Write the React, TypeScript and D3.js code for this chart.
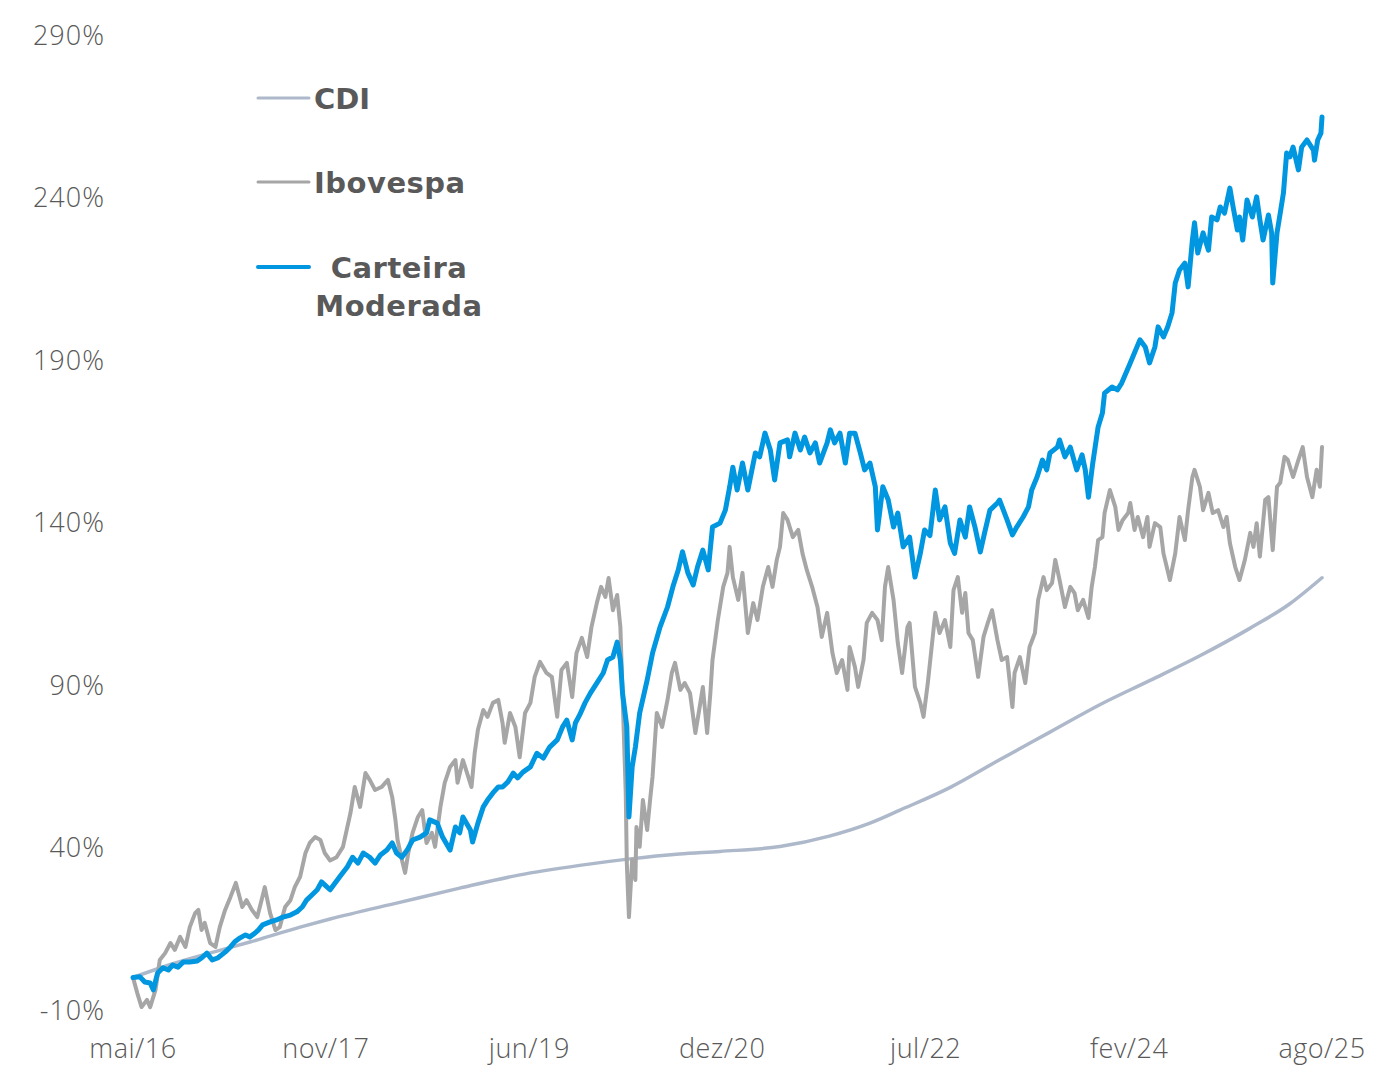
import * as d3 from 'd3'

// months since mai/16, cumulative return in %
const cdi: [number, number][] = [
  [0, 0], [3.5, 4], [7.5, 7.8], [11, 11], [15.6, 15.5], [18.4, 18], [25, 23.2], [30.5, 27.5],
  [36, 31.5], [41.7, 34.5], [46.4, 36.5], [51, 38], [54.8, 38.8], [60.4, 40.3], [65, 43.5],
  [68.8, 47.5], [71.6, 51.5], [76.3, 58.5], [80.9, 67], [85.6, 75.5], [90.3, 84], [95, 91.5],
  [99.6, 99], [104.3, 107.5], [108, 115], [111, 123],
]

const ibovespa: [number, number][] = [
  [0, 0], [0.4, -4.8], [0.8, -9.1], [1.3, -6.9], [1.6, -9.1], [2.1, -3.8], [2.5, 5.4], [3.0, 7.5],
  [3.5, 10.6], [3.9, 8.5], [4.4, 12.5], [4.9, 9.4], [5.3, 15.5], [5.8, 19.8], [6.1, 20.8],
  [6.4, 14.6], [6.7, 16.8], [7.2, 10.6], [7.7, 9.4], [8.1, 15.5], [8.6, 20.8], [9.1, 24.8],
  [9.6, 29.1], [10.2, 21.7], [10.6, 23.8], [11.1, 20.8], [11.6, 18.6], [12.0, 23.8], [12.3, 27.8],
  [12.8, 19.8], [13.3, 14.6], [13.7, 15.5], [14.2, 21.7], [14.7, 23.8], [15.1, 27.8], [15.6, 31],
  [16.1, 38.3], [16.5, 41.4], [17.0, 43.2], [17.5, 42.3], [17.9, 38.3], [18.4, 36],
  [19.0, 37], [19.6, 40.2], [20.3, 50.6], [20.7, 58.6], [21.2, 52.5], [21.7, 62.9], [22.1, 60.8],
  [22.6, 57.7], [23.2, 58.6], [23.8, 60.8], [24.2, 55.5], [24.5, 48.5], [24.7, 42.3], [25.1, 36.2],
  [25.4, 32.2], [25.7, 38.3], [26.1, 44.5], [26.6, 49.4], [27.0, 51.5], [27.4, 41.4], [27.9, 44.5],
  [28.2, 40.2], [28.7, 52.5], [29.1, 59.9], [29.6, 64.8], [30.1, 66.9], [30.3, 59.9], [30.8, 66.9],
  [31.3, 61.7], [31.6, 58.6], [31.9, 69.1], [32.2, 76.2], [32.7, 82.3], [33.1, 80.2], [33.6, 84.5],
  [34.1, 85.4], [34.5, 78.3], [34.7, 72.2], [35.2, 81.4], [35.7, 77.1], [36.1, 67.8], [36.6, 81.4],
  [37.1, 84.5], [37.5, 92.5], [38.0, 97.1], [38.6, 93.7], [39.1, 92.5], [39.6, 80.2], [40.0, 94.6],
  [40.5, 96.8], [41.0, 86.3], [41.4, 99.8], [41.9, 104.5], [42.4, 98.6], [42.8, 107.8], [43.3, 115.2],
  [43.7, 120.2], [44.1, 117.1], [44.4, 122.9], [44.8, 113], [45.2, 117.7], [45.5, 107.8], [45.7, 87.5],
  [46.0, 56.8], [46.1, 35.2], [46.3, 18.6], [46.6, 36.2], [46.9, 30], [47.0, 46.3], [47.3, 40.2],
  [47.6, 54.6], [48.0, 45.4], [48.3, 55.5], [48.5, 61.7], [48.9, 81.4], [49.4, 77.1], [49.9, 85.4],
  [50.3, 93.7], [50.6, 96.8], [51.1, 88.5], [51.5, 90.6], [52.0, 87.5], [52.5, 75.2], [52.9, 83.2],
  [53.2, 89.4], [53.6, 75.2], [53.9, 87.5], [54.1, 97.7], [54.6, 110], [55.1, 120.2], [55.5, 124.5],
  [55.7, 132.5], [56.0, 123.2], [56.5, 116.2], [56.9, 124.5], [57.4, 106], [57.9, 115.2], [58.3, 110],
  [58.8, 120.2], [59.3, 126.3], [59.7, 120.2], [60.1, 128.5], [60.4, 132.5], [60.7, 142.9], [61.1, 140.8],
  [61.6, 135.5], [62.1, 137.7], [62.5, 130.5], [62.9, 125.4], [63.4, 120.2], [63.9, 114], [64.3, 104.8],
  [64.8, 112.2], [65.3, 99.8], [65.7, 93.7], [66.2, 97.7], [66.7, 88.5], [66.9, 101.7], [67.4, 95.5],
  [67.7, 89.4], [68.2, 97.7], [68.5, 109.1], [69.0, 112.2], [69.5, 110], [69.9, 103.8], [70.2, 120.2],
  [70.5, 126.3], [71.0, 116.2], [71.4, 102.9], [71.8, 93.7], [72.3, 107.8], [72.5, 109.1], [73.0, 89.4],
  [73.5, 84.5], [73.8, 80.2], [74.2, 90.6], [74.9, 112.2], [75.3, 106], [75.8, 110], [76.3, 101.7],
  [76.6, 119.2], [77.0, 123.2], [77.4, 112.2], [77.7, 118.3], [78.0, 106], [78.4, 103.8], [78.9, 92.5],
  [79.4, 104.8], [79.8, 109.1], [80.2, 113], [80.7, 103.8], [81.1, 97.7], [81.6, 98.6], [82.1, 83.2],
  [82.3, 93.7], [82.8, 98.6], [83.3, 90.6], [83.7, 101.7], [84.2, 106], [84.5, 116.2], [85.0, 123.2],
  [85.3, 119.2], [85.8, 121.4], [86.1, 128.5], [86.5, 122.3], [87.0, 114], [87.5, 120.2], [87.9, 118.3],
  [88.2, 113], [88.7, 116.2], [89.2, 110.6], [89.5, 120.2], [89.8, 126.3], [90.1, 134.6], [90.5, 135.5],
  [90.7, 142.9], [91.2, 150], [91.7, 144.8], [92.0, 137.7], [92.4, 140.8], [92.9, 142.9], [93.1, 146],
  [93.5, 137.7], [93.8, 141.7], [94.3, 135.5], [94.7, 141.7], [94.9, 132.5], [95.4, 139.8], [95.9, 138.6],
  [96.2, 130.5], [96.8, 122.3], [97.3, 130.5], [97.7, 141.7], [98.2, 134.6], [98.5, 143.8], [98.9, 154],
  [99.1, 156.2], [99.6, 151], [99.9, 143.8], [100.4, 149.1], [100.8, 142.9], [101.3, 143.8], [101.8, 138.6],
  [102.1, 141.7], [102.4, 133.7], [102.9, 126.3], [103.3, 122.3], [103.8, 128.5], [104.3, 136.8],
  [104.6, 132.5], [104.9, 139.8], [105.2, 129.5], [105.7, 147], [106.0, 147.8], [106.4, 131.5],
  [106.8, 151], [107.1, 152.2], [107.5, 160.2], [107.8, 159.3], [108.3, 154], [108.8, 159.3],
  [109.2, 163.2], [109.6, 154], [110.1, 147.8], [110.5, 156.2], [110.8, 151], [111, 163.2],
]

const carteira: [number, number][] = [
  [0, 0], [0.65, 0.2], [1.1, -1.4], [1.6, -1.7], [1.9, -3.8], [2.3, 1.4], [2.8, 3.0], [3.3, 2.3],
  [3.7, 3.8], [4.2, 3.2], [4.7, 4.8], [5.3, 4.8], [6.0, 5.1], [6.4, 6.0], [6.9, 7.5], [7.4, 5.4],
  [7.9, 6.0], [8.6, 7.8], [9.1, 9.4], [9.5, 11], [10.0, 12.2], [10.5, 13.1], [10.9, 12.5], [11.4, 13.7],
  [11.7, 14.6], [12.1, 16.2], [12.8, 17.1], [13.4, 17.7], [14.0, 18.6], [14.7, 19.2], [15.3, 20.2],
  [15.8, 21.7], [16.2, 23.8], [16.7, 25.4], [17.2, 27], [17.6, 29.4], [17.9, 28.5], [18.4, 27],
  [19.3, 31], [20.0, 34], [20.5, 37], [21.0, 35.2], [21.5, 38.3], [22.1, 37], [22.6, 35.2], [23.1, 37.7],
  [23.7, 39.2], [24.2, 41.4], [24.6, 38.3], [25.1, 37], [25.6, 39.2], [26.1, 42.3], [26.8, 43.2],
  [27.4, 44.5], [27.7, 48.5], [28.4, 47.5], [28.9, 43.2], [29.6, 39.2], [30.1, 46.3], [30.5, 44.5],
  [30.8, 49.4], [31.5, 45.4], [31.7, 41.7], [32.2, 47.5], [32.7, 52.5], [33.1, 54.6], [33.6, 56.8],
  [34.1, 58.6], [34.5, 58.6], [35.0, 60.2], [35.5, 62.9], [35.9, 61.4], [36.4, 63.2], [37.1, 64.8],
  [37.7, 69], [38.3, 67.5], [38.9, 70.9], [39.6, 73.1], [40.1, 77.1], [40.5, 79.2], [41.0, 73.1],
  [41.3, 78.3], [41.7, 80.8], [42.2, 84.5], [42.7, 87.5], [43.3, 90.6], [43.9, 93.7], [44.3, 97.7],
  [44.8, 98.6], [45.2, 103.2], [45.5, 97.7], [45.7, 87.5], [46.1, 77.1], [46.3, 49.4], [46.6, 64.8],
  [46.9, 70.9], [47.3, 81.4], [48.0, 91.5], [48.5, 99.8], [49.2, 107.8], [49.9, 114], [50.4, 120.2],
  [50.9, 125.4], [51.3, 131], [51.8, 124.5], [52.3, 120.8], [52.7, 126.3], [53.2, 131.5], [53.7, 125.4],
  [54.1, 138.6], [54.8, 139.8], [55.3, 143.8], [55.7, 150.9], [56.0, 157], [56.4, 150], [56.9, 158.3],
  [57.4, 150], [58.1, 161.4], [58.5, 160.2], [59.0, 167.5], [59.5, 162.3], [59.9, 153.1], [60.4, 164.5],
  [61.1, 165.4], [61.3, 160.2], [61.8, 167.5], [62.3, 162.3], [62.7, 166.3], [63.2, 161.4], [63.7, 164.5],
  [64.1, 158.3], [64.8, 164.5], [65.1, 168.5], [65.5, 164.5], [66.0, 167.5], [66.5, 158.3], [66.9, 167.5],
  [67.4, 167.5], [67.9, 161.4], [68.3, 156.2], [68.8, 158.3], [69.3, 151], [69.5, 137.7], [70.0, 151],
  [70.5, 147], [71.0, 138.6], [71.4, 142.9], [71.9, 132.5], [72.5, 135.5], [73.0, 123.2], [73.5, 130.5],
  [73.9, 137.7], [74.4, 136], [74.9, 150], [75.3, 140.8], [75.8, 144.8], [76.3, 133.7], [76.7, 130.5],
  [77.2, 140.8], [77.7, 135.5], [78.1, 144.8], [78.6, 138.6], [79.1, 130.9], [79.5, 136.8], [80.0, 143.8],
  [80.7, 146], [80.9, 146.9], [81.6, 140.8], [82.1, 136.2], [82.5, 138.6], [83.1, 141.7], [83.6, 144.8],
  [83.9, 150], [84.4, 154], [84.9, 159.2], [85.3, 156.2], [85.6, 161.4], [86.3, 163.2], [86.5, 165.4],
  [87.0, 160.2], [87.5, 163.2], [88.1, 156.2], [88.6, 160.8], [88.9, 156.2], [89.2, 147.8], [89.6, 158.3],
  [90.1, 169.4], [90.5, 173.7], [90.7, 179.8], [91.4, 181.7], [91.9, 180.8], [92.3, 182.9], [93.1, 189.1],
  [94.0, 196.2], [94.5, 194], [94.9, 189.1], [95.4, 194], [95.7, 200.2], [96.2, 197.1], [96.6, 200.2],
  [97.0, 204.5], [97.3, 213.7], [97.7, 217.7], [98.2, 219.8], [98.5, 212.5], [98.9, 226.9], [99.1, 232.2],
  [99.4, 222.9], [99.9, 229.1], [100.4, 223.8], [100.7, 234], [101.2, 233.1], [101.5, 237.1], [101.9, 235.2],
  [102.4, 242.9], [102.7, 237.1], [103.1, 230], [103.3, 234], [103.6, 226.9], [104.0, 239.2], [104.5, 234],
  [104.9, 240.2], [105.2, 233.1], [105.5, 226.9], [106.0, 234.6], [106.3, 229.1], [106.4, 213.7],
  [106.8, 229.1], [107.1, 235.2], [107.4, 241.4], [107.7, 253.7], [108.0, 252.5], [108.3, 255.5],
  [108.8, 248.5], [109.1, 255.5], [109.6, 257.7], [110.2, 254.6], [110.3, 251.5], [110.6, 257.7],
  [110.9, 259.8], [111, 264.8],
]

const yTicks = [-10, 40, 90, 140, 190, 240, 290]
const xTicks = [0, 18, 37, 55, 74, 93, 111]
const xTickLabels = ['mai/16', 'nov/17', 'jun/19', 'dez/20', 'jul/22', 'fev/24', 'ago/25']

const series = [
  { name: 'CDI', data: cdi, color: '#adb9ca', width: 3.5, curve: d3.curveMonotoneX },
  { name: 'Ibovespa', data: ibovespa, color: '#a6a6a6', width: 4, curve: d3.curveLinear },
  { name: 'Carteira Moderada', data: carteira, color: '#0096e0', width: 5, curve: d3.curveLinear },
]

export default function App() {
  const width = 1373
  const height = 1067

  const x = d3.scaleLinear().domain([0, 111]).range([133, 1322])
  const y = d3.scaleLinear().domain([-10, 290]).range([1010, 35])

  const axisFont = '"Open Sans", Lato, sans-serif'
  const legendFont = '"DejaVu Sans", sans-serif'
  const textColor = '#595959'

  return (
    <svg
      width={width}
      height={height}
      style={{ position: 'absolute', left: 0, top: 0, background: '#fff' }}
    >
      {yTicks.map(t => (
        <text
          key={t}
          x={105}
          y={y(t)}
          dy="0.36em"
          textAnchor="end"
          fontFamily={axisFont}
          fontWeight={300}
          fontSize={27}
          letterSpacing={1}
          fill={textColor}
        >
          {t}%
        </text>
      ))}
      {xTicks.map((t, i) => (
        <text
          key={t}
          x={x(t)}
          y={1058}
          textAnchor="middle"
          fontFamily={axisFont}
          fontWeight={300}
          fontSize={27}
          letterSpacing={0.5}
          fill={textColor}
        >
          {xTickLabels[i]}
        </text>
      ))}

      {series.map(s => {
        const line = d3
          .line<[number, number]>()
          .x(d => x(d[0]))
          .y(d => y(d[1]))
          .curve(s.curve)
        return (
          <path
            key={s.name}
            d={line(s.data) ?? ''}
            fill="none"
            stroke={s.color}
            strokeWidth={s.width}
            strokeLinejoin="round"
            strokeLinecap="round"
          />
        )
      })}

      {/* legend */}
      <g fontFamily={legendFont} fontWeight="bold" fontSize={29} fill={textColor}>
        <line x1={258} x2={309} y1={98} y2={98} stroke={series[0].color} strokeWidth={3} strokeLinecap="round" />
        <text x={314} y={109}>CDI</text>
        <line x1={258} x2={309} y1={182} y2={182} stroke={series[1].color} strokeWidth={3} strokeLinecap="round" />
        <text x={314} y={193} letterSpacing={0.5}>Ibovespa</text>
        <line x1={258} x2={309} y1={267} y2={267} stroke={series[2].color} strokeWidth={4} strokeLinecap="round" />
        <text x={399} y={278} textAnchor="middle" letterSpacing={0.5}>Carteira</text>
        <text x={399} y={316} textAnchor="middle" letterSpacing={0.5}>Moderada</text>
      </g>
    </svg>
  )
}
